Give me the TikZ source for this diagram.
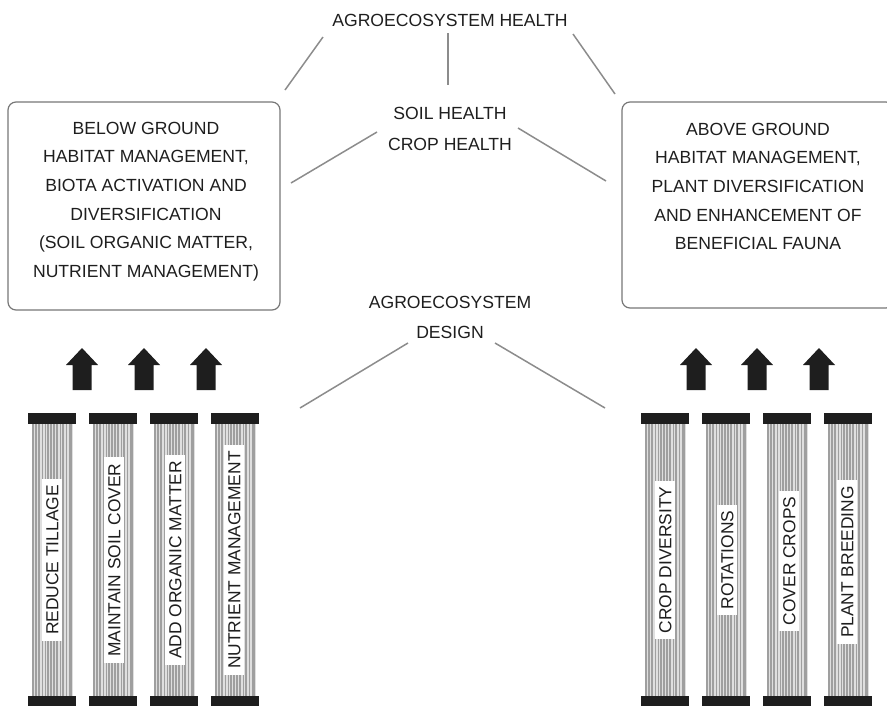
\documentclass[tikz,border=0pt]{standalone}
\usepackage{fontspec}
\setmainfont{Liberation Sans}
\usetikzlibrary{positioning,calc}

\definecolor{ink}{HTML}{1E1E1E}
\definecolor{rulegray}{HTML}{8C8C8C}

\begin{document}
\begin{tikzpicture}[x=1pt, y=-1pt,
  txt/.style={font=\fontsize{17.6}{28.6}\selectfont, text=ink, align=center, inner sep=0pt},
  link/.style={draw=rulegray, line width=1.5pt},
  panel/.style={draw=rulegray!85!black, line width=1.2pt, rounded corners=8pt, minimum width=272pt, inner sep=0pt},
  capbar/.style={fill=ink},
  stripe/.style={draw=gray!75},
  tag/.style={fill=white, rotate=90, font=\fontsize{17.4}{17}\selectfont, text=ink, text height=12.8pt, text depth=0pt, inner xsep=6pt, inner ysep=4pt},
  uparrow/.style={fill=ink}
]
  \clip (0,0) rectangle (887,705);
  % Headings
  \node[txt] (health) at (450,20) {AGROECOSYSTEM HEALTH};
  \node[txt, font=\fontsize{17.6}{31}\selectfont] (soil) at (450,128.5) {SOIL HEALTH\\CROP HEALTH};
  \node[txt, font=\fontsize{17.6}{30}\selectfont] (design) at (450,317) {AGROECOSYSTEM\\DESIGN};
  % Panels
  \node[panel, minimum height=208pt] (below) at (144,206) {};
  \node[txt] (belowtext) at (146,201.5) {BELOW GROUND\\HABITAT MANAGEMENT,\\BIOTA ACTIVATION AND\\DIVERSIFICATION\\(SOIL ORGANIC MATTER,\\NUTRIENT MANAGEMENT)};
  \node[panel, minimum height=206pt] (above) at (758,205) {};
  \node[txt] (abovetext) at (758,186.5) {ABOVE GROUND\\HABITAT MANAGEMENT,\\PLANT DIVERSIFICATION\\AND ENHANCEMENT OF\\BENEFICIAL FAUNA};
  % Links
  \draw[link] ([shift={(-127,17)}]health.center) -- ([shift={(141,-116)}]below.center);
  \draw[link] ([shift={(-2,13)}]health.center) -- ([shift={(-2,-43.5)}]soil.center);
  \draw[link] ([shift={(123,14)}]health.center) -- ([shift={(-143,-111)}]above.center);
  \draw[link] ([shift={(-73,3.5)}]soil.center) -- ([shift={(147,-23)}]below.center);
  \draw[link] ([shift={(68,-0.5)}]soil.center) -- ([shift={(-152,-24)}]above.center);
  \coordinate (designleft) at (300,408);
  \coordinate (designright) at (605,408);
  \draw[link] ([shift={(-42,26)}]design.center) -- (designleft);
  \draw[link] ([shift={(45,26)}]design.center) -- (designright);
  % Block arrows
  \foreach \ax in {82,144,206,696,757,819} {
    \fill[uparrow] (\ax,348) -- (\ax+16,365) -- (\ax+9.5,365) -- (\ax+9.5,390)
      -- (\ax-9.5,390) -- (\ax-9.5,365) -- (\ax-16,365) -- cycle;
  }
  % Pillars
  \foreach \c in {52,113,174,235,665,726,787,848} {
    \fill[gray!25] (\c-20.5,424) rectangle (\c+20.5,696);
    \foreach \d/\w in {-19/1.8,-16/1.2,-13/2.2,-9.8/1.4,-7/1.0,-4.2/2.0,-1/1.6,2/1.2,5/2.2,8/1.0,11/1.8,14.2/1.4,17.5/2.0,19.8/1.0} {
      \draw[stripe, line width=\w pt] (\c+\d,424) -- (\c+\d,696);
    }
    \fill[capbar] (\c-24,413) rectangle (\c+24,424);
    \fill[capbar] (\c-24,696) rectangle (\c+24,708);
  }
  % Pillar labels
  \node[tag] (tillage) at (52,560) {REDUCE TILLAGE};
  \node[tag] (cover) at (114,560) {MAINTAIN SOIL COVER};
  \node[tag] (organic) at (175,560) {ADD ORGANIC MATTER};
  \node[tag] (nutrient) at (234,560) {NUTRIENT MANAGEMENT};
  \node[tag] (diversity) at (665,560) {CROP DIVERSITY};
  \node[tag] (rotations) at (727,560) {ROTATIONS};
  \node[tag] (covercrops) at (789,561) {COVER CROPS};
  \node[tag] (breeding) at (847,562) {PLANT BREEDING};
\end{tikzpicture}
\end{document}
